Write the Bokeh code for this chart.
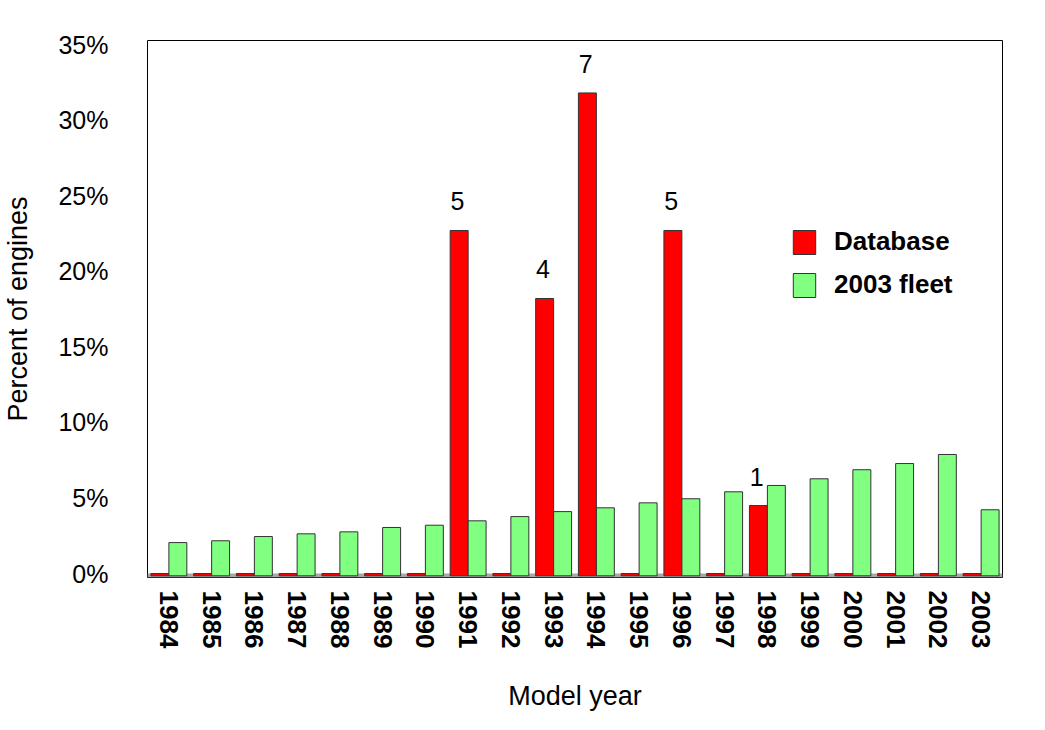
from bokeh.embed import file_html
from bokeh.resources import INLINE
from bokeh.core.properties import value
from bokeh.models import (ColumnDataSource, FactorRange, Range1d, FixedTicker,
                          PrintfTickFormatter, BoxAnnotation, Legend, LegendItem, LabelSet)
from bokeh.plotting import figure
from bokeh.transform import dodge

# data
years = [str(y) for y in range(1984, 2004)]
database = [0, 0, 0, 0, 0, 0, 0, 22.7, 0, 18.2, 31.8, 0, 22.7, 0, 4.5, 0, 0, 0, 0, 0]
fleet = [2.05, 2.17, 2.45, 2.63, 2.76, 3.05, 3.2, 3.49, 3.77, 4.1,
         4.35, 4.68, 4.95, 5.41, 5.83, 6.27, 6.87, 7.28, 7.88, 4.22]
count_years = ["1991", "1993", "1994", "1996", "1998"]
counts = [5, 4, 7, 5, 1]
count_pct = [22.7, 18.2, 31.8, 22.7, 4.5]
y_ticks = [0, 5, 10, 15, 20, 25, 30, 35]

FONT = "Liberation Sans"

src = ColumnDataSource(data=dict(year=years, database=database, fleet=fleet))
lab_src = ColumnDataSource(data=dict(year=count_years, pct=count_pct,
                                     n=[str(c) for c in counts]))

p = figure(x_range=FactorRange(*years, range_padding=0),
           y_range=Range1d(-0.26, 35.27),
           width=1029, height=714,
           min_border_left=145, min_border_right=27,
           min_border_top=40, min_border_bottom=137,
           output_backend="svg", toolbar_location=None, tools="",
           background_fill_color="white", border_fill_color="white")

p.grid.grid_line_color = None
p.outline_line_color = "black"
p.outline_line_width = 1

# floor below the bars
p.add_layout(BoxAnnotation(top=0, bottom=-0.26, fill_color="#a8a8a8",
                           fill_alpha=1, line_color=None, level="underlay"))

r_db = p.vbar(x=dodge("year", -0.21, range=p.x_range), top="database", bottom=-0.15,
              width=0.42, source=src, fill_color="#ff0000",
              line_color="#333333", line_width=1)
r_fl = p.vbar(x=dodge("year", 0.21, range=p.x_range), top="fleet", bottom=-0.15,
              width=0.42, source=src, fill_color="#80ff80",
              line_color="#333333", line_width=1)

p.add_layout(LabelSet(x=dodge("year", -0.25, range=p.x_range), y="pct", text="n",
                      source=lab_src, text_align="center", y_offset=20,
                      text_font=value(FONT), text_font_size="25px", text_color="black"))

# axes
p.yaxis.ticker = FixedTicker(ticks=y_ticks)
p.yaxis.formatter = PrintfTickFormatter(format="%d%%")
p.yaxis.axis_line_color = None
p.yaxis.major_tick_line_color = None
p.yaxis.minor_tick_line_color = None
p.yaxis.major_label_standoff = 33
p.yaxis.major_label_text_font = FONT
p.yaxis.major_label_text_font_size = "25px"
p.yaxis.major_label_text_color = "black"
p.yaxis.axis_label = "Percent of engines"
p.yaxis.axis_label_text_font = FONT
p.yaxis.axis_label_text_font_size = "27px"
p.yaxis.axis_label_text_font_style = "normal"
p.yaxis.axis_label_text_color = "black"
p.yaxis.axis_label_standoff = 22

p.xaxis.axis_line_color = None
p.xaxis.major_tick_line_color = None
p.xaxis.major_label_orientation = "vertical"
p.xaxis.major_label_standoff = 7
p.xaxis.major_label_text_font = FONT
p.xaxis.major_label_text_font_size = "26px"
p.xaxis.major_label_text_font_style = "bold"
p.xaxis.major_label_text_color = "black"
p.xaxis.axis_label = "Model year"
p.xaxis.axis_label_text_font = FONT
p.xaxis.axis_label_text_font_size = "27px"
p.xaxis.axis_label_text_font_style = "normal"
p.xaxis.axis_label_text_color = "black"
p.xaxis.axis_label_standoff = 30

legend = Legend(items=[LegendItem(label="Database", renderers=[r_db]),
                       LegendItem(label="2003 fleet", renderers=[r_fl])],
                location=(643, 277), padding=0, margin=0, spacing=12,
                glyph_width=28, glyph_height=30, label_standoff=16,
                label_text_font=FONT, label_text_font_size="26px",
                label_text_font_style="bold", label_text_color="black",
                border_line_color=None, background_fill_alpha=0)
p.add_layout(legend)

open("out.html", "w").write(file_html(p, INLINE))
